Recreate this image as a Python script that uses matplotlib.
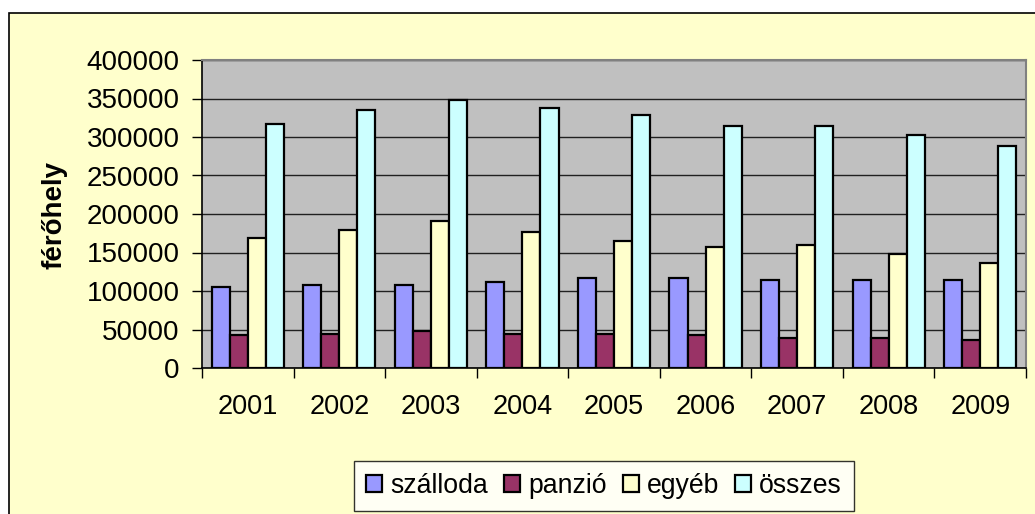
import numpy as np
import matplotlib.pyplot as plt
from matplotlib.patches import Rectangle

plt.rcParams['font.family'] = ['Liberation Sans', 'DejaVu Sans']

years = ["2001", "2002", "2003", "2004", "2005", "2006", "2007", "2008", "2009"]
szalloda = [105300, 107900, 107900, 111400, 116600, 116600, 114000, 114000, 114000]
panzio = [42500, 44600, 48100, 44600, 44600, 42500, 39400, 39400, 36800]
egyeb = [168200, 179400, 190700, 176800, 165100, 156900, 159900, 148200, 136500]
osszes = [317200, 334600, 348500, 337200, 328500, 314200, 314200, 302500, 288200]

series = [("szálloda", szalloda, "#9999FF"),
          ("panzió", panzio, "#993366"),
          ("egyéb", egyeb, "#FFFFCC"),
          ("összes", osszes, "#CCFFFF")]

fig = plt.figure(figsize=(10.35, 5.14), dpi=100, facecolor="white")
# chart area background with border
bg = Rectangle((9/1035, -0.05), 1.1, 1 - 13/514 + 0.05,
               transform=fig.transFigure, facecolor="#FFFFCC",
               edgecolor="black", linewidth=1.2, zorder=-10)
fig.add_artist(bg)

ax = fig.add_axes([202/1035, 1 - 368/514, 824/1035, 308/514])
ax.set_zorder(1)
ax.set_facecolor("#C0C0C0")

x = np.arange(len(years))
w = 0.197
for i, (name, vals, col) in enumerate(series):
    ax.bar(x + (i - 1.5) * w, vals, w, color=col, edgecolor="black",
           linewidth=1.6, label=name, zorder=3)

ax.set_xlim(-0.5, len(years) - 0.5)
ax.set_ylim(0, 400000)
ax.set_yticks(np.arange(0, 400001, 50000))
ax.grid(axis="y", color="#202020", linewidth=1.0, zorder=1)
ax.set_axisbelow(True)

ax.set_xticks(x)
ax.set_xticklabels(years)
ax.set_xticks(np.arange(-0.5, len(years)), minor=True)
ax.tick_params(axis="x", which="major", length=0, pad=19, labelsize=19.5)
ax.tick_params(axis="x", which="minor", length=7, width=1, direction="out")
ax.tick_params(axis="y", length=7, width=1, direction="out", pad=9, labelsize=20)

for s in ["left", "bottom"]:
    ax.spines[s].set_color("black")
    ax.spines[s].set_linewidth(1.2)
for s in ["top", "right"]:
    ax.spines[s].set_color("#808080")
    ax.spines[s].set_linewidth(1.5)

fig.text(55/1035, 1 - 215/514, "férőhely", rotation=90, fontsize=20,
         fontweight="bold", ha="center", va="center", zorder=2)

leg = fig.legend(loc="center", bbox_to_anchor=(604/1035, 1 - 486/514), ncol=4,
                 fontsize=19.2, frameon=True, fancybox=False, edgecolor="black",
                 handlelength=0.6, handleheight=0.6, handletextpad=0.3,
                 columnspacing=0.6, borderpad=0.45)
leg.get_frame().set_linewidth(1.0)
leg.set_zorder(2)

fig.savefig("out.png", dpi=100, facecolor=fig.get_facecolor())
